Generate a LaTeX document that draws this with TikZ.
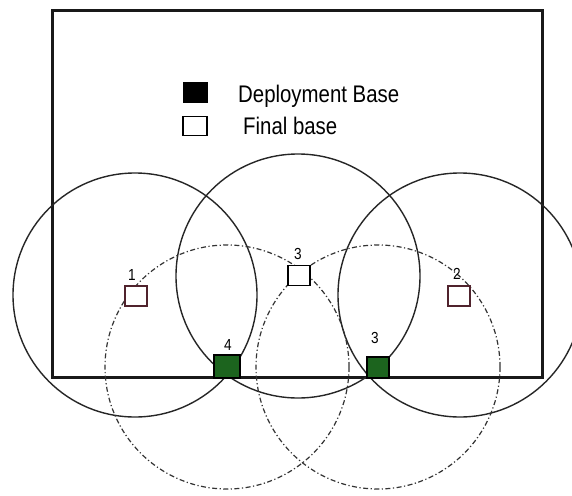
\documentclass[tikz,border=0pt]{standalone}
\usepackage{fontspec}
\newfontfamily\legfont[FakeStretch=0.85]{Liberation Sans}
\definecolor{depgreen}{RGB}{28,100,30}
\definecolor{finedge}{RGB}{80,35,45}
\begin{document}
\begin{tikzpicture}[x=1pt,y=-1pt,
  areaframe/.style={line width=3pt, draw=black!90},
  rangecircle/.style={line width=1.4pt, draw=black!85},
  deprangecircle/.style={line width=1.2pt, draw=black!80, dash pattern=on 5pt off 2.5pt on 1.2pt off 2.5pt},
  finalbox/.style={draw=finedge, fill=white, line width=1.3pt, minimum width=22pt, minimum height=20pt, inner sep=0pt},
  depbox/.style={draw=black, fill=depgreen, line width=1.3pt, minimum width=24pt, minimum height=22pt, inner sep=0pt},
  numlab/.style={font=\legfont\fontsize{16}{18}\selectfont, inner sep=0pt},
  legtext/.style={font=\legfont\fontsize{24}{28}\selectfont, anchor=base west, inner sep=0pt}]
\useasboundingbox (0,0) rectangle (572,495);
% area frame
\draw[areaframe] (52,11) rectangle (542,377);
% legend
\node[draw=black, fill=black, minimum width=24pt, minimum height=20pt, inner sep=0pt] (legdep) at (195,92) {};
\node[draw=black, fill=white, line width=1.3pt, minimum width=24pt, minimum height=19pt, inner sep=0pt] (legfin) at (195,126) {};
\node[legtext] (legdeptext) at (238,102) {Deployment Base};
\node[legtext] (legfintext) at (243,134) {Final base};
% centres
\coordinate (c1) at (135,295);
\coordinate (c3) at (298,276);
\coordinate (c2) at (460,295);
\coordinate (d4) at (227,367);
\coordinate (d3) at (378,367);
% ranges
\draw[rangecircle] (c1) circle[radius=122];
\draw[rangecircle] (c3) circle[radius=122];
\draw[rangecircle] (c2) circle[radius=122];
\draw[deprangecircle] (d4) circle[radius=122];
\draw[deprangecircle] (d3) circle[radius=122];
% final bases
\node[finalbox] (f1) at (136,296) {};
\node[finalbox, draw=black] (f3) at (299,275.5) {};
\node[finalbox] (f2) at (459,296) {};
% deployment bases
\node[depbox, minimum width=26pt, minimum height=23pt] (b4) at (227,366.5) {};
\node[depbox, minimum width=22pt, minimum height=21pt] (b3) at (378,367.5) {};
% labels
\node[numlab] (l1) at (132,275) {1};
\node[numlab] (l3) at (298,254) {3};
\node[numlab] (l2) at (457,274) {2};
\node[numlab] (l4) at (228,345) {4};
\node[numlab] (l3b) at (375,338) {3};
\end{tikzpicture}
\end{document}
